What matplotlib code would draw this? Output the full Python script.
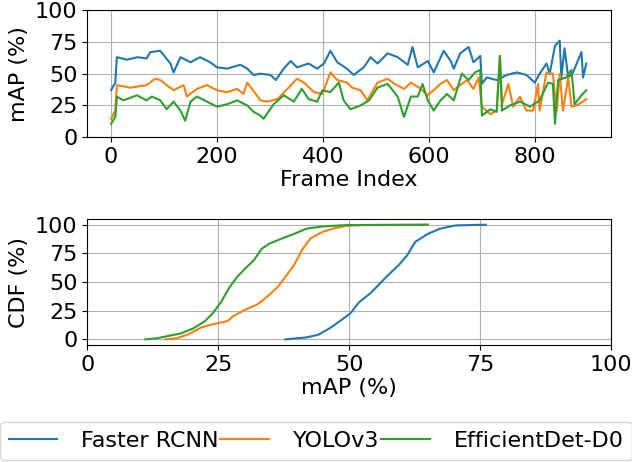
import matplotlib
matplotlib.use("Agg")
import matplotlib.pyplot as plt

plt.rcParams['font.size'] = 16

labels = ['Faster RCNN', 'YOLOv3', 'EfficientDet-D0']
colors = ['tab:blue', 'tab:orange', 'tab:green']

# mAP per frame
frcnn_frames = [0, 8, 11, 30, 50, 67, 74, 93, 112, 118, 131, 150, 168, 187, 200, 219, 244, 257,
                269, 282, 301, 311, 326, 339, 351, 373, 389, 402, 414, 427, 445, 458, 477, 490,
                503, 522, 541, 560, 569, 579, 598, 609, 628, 641, 647, 659, 675, 684, 697, 700,
                709, 728, 747, 766, 784, 800, 809, 822, 828, 838, 847, 850, 856, 863, 872, 888,
                891, 897]
frcnn_map = [37, 43, 63, 61, 63, 62, 67, 68, 58, 51, 63, 59, 63, 59, 55, 54, 57, 54,
             49, 50, 49, 45, 54, 60, 55, 58, 54, 58, 68, 59, 54, 49, 55, 63,
             58, 66, 63, 57, 71, 55, 60, 51, 68, 60, 54, 66, 71, 59, 64, 42,
             47, 45, 49, 51, 49, 43, 50, 58, 50, 72, 76, 47, 70, 47, 51, 67,
             47, 58]

yolo_frames = [0, 8, 11, 36, 67, 83, 93, 105, 118, 137, 143, 162, 181, 200, 219, 238, 250, 257,
               266, 282, 295, 314, 333, 351, 364, 383, 399, 414, 427, 445, 455, 471, 484, 503,
               522, 535, 553, 566, 585, 597, 609, 622, 634, 647, 659, 672, 684, 694, 700, 716,
               728, 734, 738, 750, 759, 772, 784, 797, 806, 809, 822, 834, 841, 847, 853, 863,
               869, 878, 891, 897]
yolo_map = [14.5, 21, 41, 39, 41, 46, 45, 41, 37, 41, 32, 38, 41, 37, 35.5, 38, 34, 43,
            38, 29, 28, 30, 38, 46, 43, 35.5, 34, 51, 45, 43, 39, 37, 29, 43,
            46, 42, 38, 43, 38, 33, 37, 42, 45, 37, 41, 45, 38, 47, 24, 18,
            21, 64, 26, 42, 24, 32, 21, 21, 42, 21, 51, 50, 20, 50, 21, 47,
            24, 25, 28, 30]

effdet_frames = [0, 8, 11, 23, 49, 67, 77, 93, 105, 118, 131, 140, 150, 162, 181, 200, 219, 238,
                 257, 269, 282, 288, 307, 326, 345, 360, 373, 389, 399, 414, 430, 439, 452, 471,
                 487, 503, 522, 541, 553, 566, 579, 588, 598, 609, 622, 634, 647, 662, 675, 687,
                 697, 700, 716, 728, 734, 738, 753, 772, 791, 809, 825, 834, 838, 844, 859, 869,
                 875, 888, 897]
effdet_map = [10.5, 16, 32, 29, 33, 29, 32, 29, 22, 28, 21, 13, 28, 32, 28, 24, 26, 29,
              25, 20, 17, 14.5, 26, 33, 28, 38, 30, 28, 37, 35.5, 43, 29, 22, 25,
              29, 39, 42, 32, 16, 32, 32, 42, 29, 21, 29, 34, 29, 50, 45, 51,
              53, 17, 22, 20, 64, 21, 25, 28, 24, 29, 43, 42, 10.5, 45, 47, 53,
              26, 33, 37]

# CDF of mAP
frcnn_cdf_x = [37.8, 41.8, 44.1, 46.4, 48.7, 50.3, 51.8, 54.1, 55.3, 57.2, 59.5, 61.1, 62.6,
               65.0, 67.3, 70.3, 76.1]
frcnn_cdf_y = [0, 1.7, 4, 10, 17.5, 23, 32, 40.5, 46, 55, 65, 73.5, 85, 92, 96.5, 99.4, 100]
yolo_cdf_x = [15.0, 17.1, 19.4, 21.7, 24.0, 26.8, 27.9, 30.2, 32.5, 34.8, 36.4, 37.9, 39.5,
              41.0, 42.6, 44.9, 47.2, 49.5, 52.6, 65.0]
yolo_cdf_y = [0, 1, 4.6, 10.3, 13.2, 16, 20.4, 26, 30.5, 39, 46, 55, 65, 78, 88, 93.7, 97, 99,
              99.7, 100]
effdet_cdf_x = [11.1, 13.3, 17.9, 20.2, 22.5, 24.0, 25.6, 27.1, 28.7, 30.2, 31.8, 33.3, 34.8,
                37.2, 39.5, 41.8, 44.9, 49.5, 65.0]
effdet_cdf_y = [0, 1, 5.2, 9.5, 16, 23, 33, 45, 55, 62, 69, 79, 83.6, 88, 92, 96.5, 98.5, 99.7,
                100]

series = [(frcnn_frames, frcnn_map), (yolo_frames, yolo_map), (effdet_frames, effdet_map)]
cdfs = [(frcnn_cdf_x, frcnn_cdf_y), (yolo_cdf_x, yolo_cdf_y), (effdet_cdf_x, effdet_cdf_y)]

fig = plt.figure(figsize=(6.32, 4.62), dpi=100)
ax1 = fig.add_axes([0.138, 0.703, 0.829, 0.275])
ax2 = fig.add_axes([0.138, 0.253, 0.829, 0.273])

for (f, m), c, lab in zip(series, colors, labels):
    ax1.plot(f, m, color=c, lw=1.5, label=lab)
ax1.set_xlim(-45, 944)
ax1.set_ylim(0, 100)
ax1.set_yticks([0, 25, 50, 75, 100])
ax1.set_xlabel('Frame Index', labelpad=2)
ax1.set_ylabel('mAP (%)')
ax1.grid(True)

for (x, y), c in zip(cdfs, colors):
    ax2.plot(x, y, color=c, lw=1.5)
ax2.set_xlim(0, 100)
ax2.set_xticks([0, 25, 50, 75, 100])
ax2.set_yticks([0, 25, 50, 75, 100])
ax2.set_xlabel('mAP (%)', labelpad=2)
ax2.set_ylabel('CDF (%)')
ax2.grid(True)

fig.legend(*ax1.get_legend_handles_labels(), loc='lower center', bbox_to_anchor=(0.5, 0.0),
           ncol=3, columnspacing=0.1, handlelength=2.2, handletextpad=1.05, borderaxespad=0.1)

fig.savefig('out.png', dpi=100)
